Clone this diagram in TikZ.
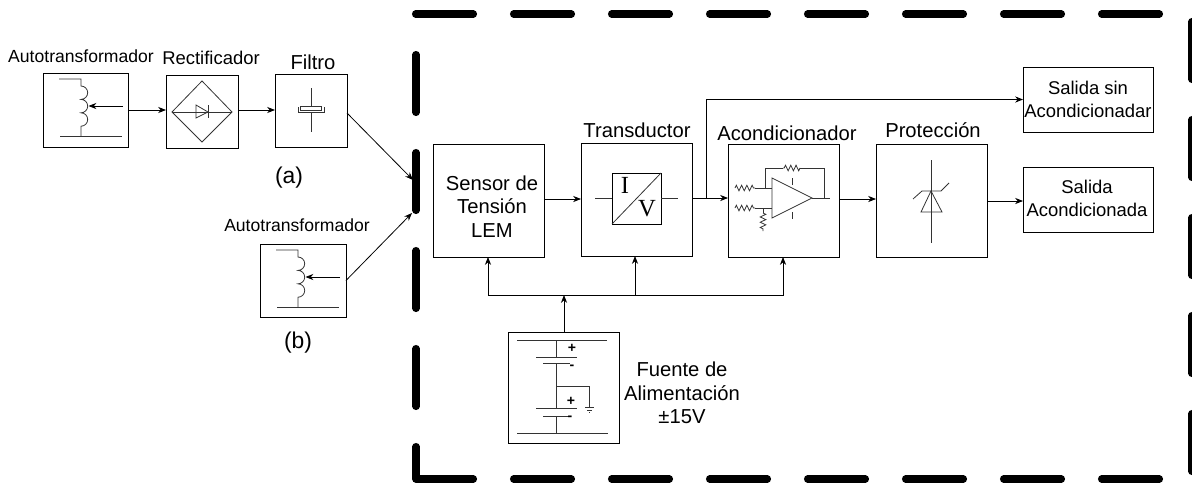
\documentclass[tikz,border=0pt]{standalone}
\usepackage{
	fontspec,			% Fonts
	tikz
}
\usetikzlibrary{arrows.meta,decorations.pathmorphing}
\setmainfont{Liberation Sans}
\newfontfamily\letrasiv{Liberation Serif}

\tikzset{
	flecha/.style={-{Stealth[length=4.5pt,width=3.5pt]},line width=0.45pt},
	bloque/.style={draw,line width=0.5pt,inner sep=0pt,outer sep=0pt},
	bloquegrande/.style={bloque,minimum width=2.22cm,minimum height=2.26cm},
	bloquechico/.style={bloque,minimum width=1.44cm,minimum height=1.46cm},
	bloquesalida/.style={bloque,minimum width=2.6cm,minimum height=1.3cm},
	simbolo/.style={line width=0.45pt,black!80},
	resistencia/.style={simbolo,decorate,decoration={zigzag,amplitude=1.6pt,segment length=3pt}},
	borde/.style={line width=4.15pt,line cap=round,line join=round},
	titulo/.style={font=\fontsize{11.5}{13.4}\selectfont,align=center,inner sep=0pt},
	titulochico/.style={font=\fontsize{10.5}{13.4}\selectfont,align=center,inner sep=0pt},
	autotrafo/.pic={
		\draw[simbolo] (16,6) -- (38,6) -- (38,13)
			arc[start angle=-90,end angle=90,radius=6.7]
			arc[start angle=-90,end angle=90,radius=6.7]
			arc[start angle=-90,end angle=90,radius=6.7] -- (38,63);
		\draw[simbolo] (17,63) -- (79,63);
		\draw[flecha] (80,33) -- (45.5,33);
	}
}

\begin{document}
\begin{tikzpicture}[x=0.02cm,y=-0.02cm]
	\useasboundingbox (0,0) rectangle (1192,484);

	% Dashed enclosure.
	\foreach \x in {510,608,...,1098} {
		\draw[borde] (\x+3.6,479) -- (\x+61.4,479);
	}
	\foreach \x in {412,510,...,1098} {
		\draw[borde] (\x+3.6,14) -- (\x+61.4,14);
	}
	\foreach \y in {51,149,247,345} {
		\draw[borde] (416,\y+3.6) -- (416,\y+61.4);
	}
	\foreach \y in {18,116,214,312,410} {
		\draw[borde] (1192,\y+3.6) -- (1192,\y+61.4);
	}
	\draw[borde] (416,446.6) -- (416,479) -- (473.4,479); % Corner.

	% Blocks.
	\node[bloque,minimum width=1.7cm,minimum height=1.48cm] (trafoa) at (85.5,110) {};
	\node[bloquechico] (rectificador) at (202,111.5) {};
	\node[bloquechico] (filtro) at (311,111) {};
	\node[bloque,minimum width=1.72cm,minimum height=1.46cm] (trafob) at (303,280.5) {};
	\node[bloquegrande] (sensor) at (488.5,200.5) {};
	\node[bloquegrande] (transductor) at (636.5,199.5) {};
	\node[bloquegrande] (acond) at (783.5,200.5) {};
	\node[bloquegrande] (proteccion) at (931.5,200.5) {};
	\node[bloquesalida] (salidasin) at (1088,99.5) {};
	\node[bloquesalida] (salidacon) at (1088,199.5) {};
	\node[bloque,minimum width=2.22cm,minimum height=2.22cm] (fuente) at (563.5,387.5) {};

	% Labels.
	\node[titulochico,font=\fontsize{10}{12}\selectfont] (ltrafoa) at (81,56) {Autotransformador};
	\node[titulochico] (lrect) at (211,58) {Rectificador};
	\node[titulo] (lfiltro) at (313,62) {Filtro};
	\node[titulo,font=\fontsize{13}{15}\selectfont] (la) at (289,178) {(a)};
	\node[titulochico,font=\fontsize{10}{12}\selectfont] (ltrafob) at (297,225) {Autotransformador};
	\node[titulo,font=\fontsize{13}{15}\selectfont] (lb) at (298,343) {(b)};
	\node[titulo] (lsensor) at (492,206.5) {Sensor de\\Tensión\\LEM};
	\node[titulo] (ltrans) at (637,130) {Transductor};
	\node[titulo] (lacond) at (787,133) {Acondicionador};
	\node[titulo] (lprot) at (933,130) {Protección};
	\node[titulochico] (lsalidasin) at (1088,99.5) {Salida sin\\Acondicionadar};
	\node[titulochico] (lsalidacon) at (1087,198.5) {Salida\\Acondicionada};
	\node[titulo] (lfuente) at (682,393) {Fuente de\\Alimentación\\±15V};

	% Connectors.
	\coordinate (nudo) at (706,198);
	\coordinate (bus) at (564,295);
	\coordinate (murosup) at (413,180);
	\coordinate (muroinf) at (412,213);
	\draw[flecha] (trafoa.east |- 0,110) -- (rectificador.west |- 0,110);
	\draw[flecha] (rectificador.east |- 0,110) -- (filtro.west |- 0,110);
	\draw[flecha] (filtro.east |- 0,113) -- (murosup);
	\draw[flecha] (trafob.east) -- (muroinf);
	\draw[flecha] (sensor.east |- 0,199) -- (transductor.west |- 0,199);
	\draw[flecha] (transductor.east |- nudo) -- (acond.west |- nudo);
	\draw[flecha] (nudo) |- (salidasin.west);
	\draw[flecha] (acond.east |- 0,199) -- (proteccion.west |- 0,199);
	\draw[flecha] (proteccion.east |- 0,201) -- (salidacon.west |- 0,201);
	\draw[flecha] (fuente.north -| bus) -- (bus);
	\draw[flecha] (bus) -| (sensor.south -| 488,0);
	\draw[flecha] (bus) -| (transductor.south -| 635,0);
	\draw[flecha] (bus) -| (acond.south -| 783,0);

	% Autotransformers.
	\pic at (43,73) {autotrafo};
	\pic at (260,244) {autotrafo};

	% Bridge rectifier.
	\draw[simbolo] (172,112) -- (202,81) -- (232,112) -- (202,142) -- cycle;
	\draw[simbolo] (172,112) -- (232,112);
	\draw[simbolo] (196,105) -- (208,112) -- (196,118) -- cycle;
	\draw[simbolo] (208,105) -- (208,118);

	% Capacitor.
	\draw[simbolo] (311,88) -- (311,106);
	\draw[simbolo] (311,112) -- (311,132);
	\draw[simbolo] (300,106) rectangle (321,110);
	\draw[simbolo] (298,107) -- (298,112) -- (324,112) -- (324,107);

	% Current to voltage.
	\node[bloque,minimum width=0.98cm,minimum height=1.02cm] (iv) at (636.5,198.5) {};
	\draw[simbolo] (595,198) -- (iv.west |- 0,198);
	\draw[simbolo] (iv.east |- 0,198) -- (678,198);
	\draw[simbolo] (iv.south west) -- (iv.north east);
	\node[font=\letrasiv\fontsize{14}{14}\selectfont,inner sep=0pt] (letrai) at (625,185) {I};
	\node[font=\letrasiv\fontsize{14}{14}\selectfont,inner sep=0pt] (letrav) at (647,209) {V};

	% Op amp.
	\draw[simbolo] (772,178) -- (812,198) -- (772,218) -- cycle;
	\draw[simbolo] (792,178) -- (792,185);
	\draw[simbolo] (792,212) -- (792,219);
	\draw[simbolo] (812,198) -- (830,198);
	\draw[simbolo] (824,198) -- (824,168) -- (800,168);
	\draw[resistencia] (800,168) -- (783,168);
	\draw[simbolo] (783,168) -- (765,168) -- (765,188);
	\draw[resistencia] (735,188) -- (755,188);
	\draw[simbolo] (755,188) -- (772,188);
	\draw[resistencia] (735,208) -- (755,208);
	\draw[simbolo] (755,208) -- (772,208);
	\draw[simbolo] (763,208) -- (763,213);
	\draw[resistencia] (763,213) -- (763,231);

	% Zener.
	\draw[simbolo] (931,160) -- (931,243);
	\draw[simbolo] (931,191) -- (942,212) -- (921,212) -- cycle;
	\draw[simbolo] (913,199) -- (922,191) -- (941,191) -- (949,183);

	% Supply.
	\draw[simbolo] (517,340) -- (607,340);
	\draw[simbolo] (556,340) -- (556,357);
	\draw[simbolo] (536,357) -- (577,357);
	\draw[simbolo] (543,363) -- (570,363);
	\draw[simbolo] (556,363) -- (556,408);
	\draw[simbolo] (536,408) -- (577,408);
	\draw[simbolo] (543,416) -- (570,416);
	\draw[simbolo] (556,416) -- (556,433);
	\draw[simbolo] (517,433) -- (608,433);
	\draw[simbolo] (556,386) -- (589,386) -- (589,407);
	\draw[simbolo] (585,407) -- (594,407);
	\draw[simbolo] (587,410) -- (592,410);
	\draw[simbolo] (589,412) -- (590,412);
	\foreach \px/\py/\signo in {572/348/+,572/367/-,571/401/+,570/418/-} {
		\node[font=\fontsize{8}{8}\selectfont\bfseries,inner sep=0pt] at (\px,\py) {\signo};
	}
\end{tikzpicture}
\end{document}
